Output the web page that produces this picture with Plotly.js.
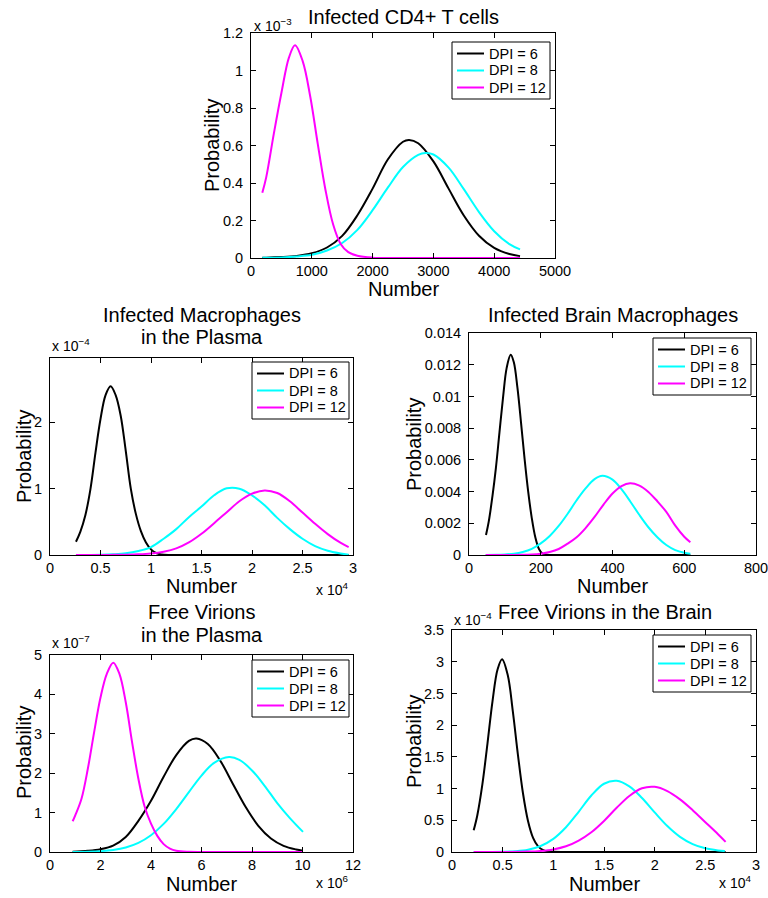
<!DOCTYPE html>
<html><head><meta charset="utf-8">
<script src="https://cdn.plot.ly/plotly-3.0.1.min.js"></script>
<style>html,body{margin:0;padding:0;background:#fff}#chart{width:768px;height:898px}</style>
</head><body><div id="chart"></div>
<script>
// ---------- series names & colours ----------
const seriesNames = ["DPI = 6", "DPI = 8", "DPI = 12"];
const seriesColors = ["#000000", "#00ffff", "#ff00ff"];

// ---------- Panel 1: Infected CD4+ T cells (x: number, y: x 10^-3) ----------
const cd4_x_dpi6  = [186, 250, 500, 750, 1000, 1250, 1500, 1750, 2000, 2250, 2500, 2600, 2750, 3000, 3250, 3500, 3750, 4000, 4250, 4425];
const cd4_y_dpi6  = [0.002, 0.002, 0.005, 0.011, 0.025, 0.056, 0.118, 0.228, 0.37, 0.525, 0.62, 0.63, 0.612, 0.515, 0.37, 0.227, 0.119, 0.054, 0.021, 0.01];
const cd4_x_dpi8  = [186, 250, 500, 750, 1000, 1250, 1500, 1750, 2000, 2250, 2500, 2750, 2870, 3000, 3250, 3500, 3750, 4000, 4250, 4425];
const cd4_y_dpi8  = [0.001, 0.001, 0.003, 0.008, 0.017, 0.04, 0.08, 0.15, 0.255, 0.375, 0.485, 0.55, 0.56, 0.552, 0.482, 0.367, 0.245, 0.143, 0.074, 0.046];
const cd4_x_dpi12 = [186, 250, 375, 500, 625, 724, 850, 975, 1100, 1225, 1350, 1475, 1600, 1750, 2000, 2250, 2500, 3000, 3500, 4000, 4425];
const cd4_y_dpi12 = [0.348, 0.43, 0.662, 0.88, 1.07, 1.135, 1.05, 0.86, 0.605, 0.363, 0.18, 0.075, 0.031, 0.012, 0.002, 0, 0, 0, 0, 0, 0];

// ---------- Panel 2: Infected Macrophages in the Plasma (x: x 10^4, y: x 10^-4) ----------
const macP_x_dpi6  = [0.257, 0.30, 0.35, 0.40, 0.45, 0.50, 0.55, 0.60, 0.65, 0.70, 0.75, 0.80, 0.85, 0.90, 0.95, 1.00, 1.05, 1.10, 1.20, 1.50, 2.0, 2.5, 2.957];
const macP_y_dpi6  = [0.20, 0.35, 0.60, 0.99, 1.54, 2.05, 2.41, 2.544, 2.41, 2.10, 1.57, 1.00, 0.62, 0.36, 0.19, 0.085, 0.03, 0.008, 0.001, 0, 0, 0, 0];
const macP_x_dpi8  = [0.257, 0.5, 0.625, 0.75, 0.875, 1.0, 1.125, 1.25, 1.375, 1.5, 1.625, 1.75, 1.875, 2.0, 2.125, 2.25, 2.375, 2.5, 2.625, 2.75, 2.875, 2.957];
const macP_y_dpi8  = [0, 0.004, 0.011, 0.025, 0.06, 0.12, 0.245, 0.39, 0.57, 0.73, 0.90, 1.005, 1.0, 0.90, 0.75, 0.56, 0.39, 0.245, 0.135, 0.065, 0.024, 0.005];
const macP_x_dpi12 = [0.257, 0.5, 0.625, 0.75, 0.875, 1.0, 1.125, 1.25, 1.375, 1.5, 1.625, 1.75, 1.875, 2.0, 2.125, 2.25, 2.375, 2.5, 2.625, 2.75, 2.875, 2.957];
const macP_y_dpi12 = [0, 0.001, 0.002, 0.004, 0.01, 0.023, 0.05, 0.10, 0.19, 0.32, 0.48, 0.645, 0.81, 0.925, 0.974, 0.935, 0.81, 0.64, 0.47, 0.315, 0.185, 0.12];

// ---------- Panel 3: Infected Brain Macrophages (x: number, y: probability) ----------
const macB_x_dpi6  = [47.4, 55, 65, 75, 85, 95, 105, 116.3, 125, 135, 145, 155, 165, 175, 185, 195, 205, 215, 230, 300, 617];
const macB_y_dpi6  = [0.00126, 0.0021, 0.00365, 0.0055, 0.00775, 0.00995, 0.0118, 0.01263, 0.01215, 0.01055, 0.00835, 0.00605, 0.0040, 0.00233, 0.0011, 0.00038, 0.00008, 0.000012, 0.000001, 0, 0];
const macB_x_dpi8  = [46.5, 75, 100, 125, 150, 175, 200, 225, 250, 275, 300, 325, 350, 372, 400, 425, 450, 475, 500, 525, 550, 575, 600, 617];
const macB_y_dpi8  = [0.000005, 0.000013, 0.000037, 0.00008, 0.00019, 0.00039, 0.00073, 0.0012, 0.00183, 0.0026, 0.00345, 0.0042, 0.00478, 0.00499, 0.00475, 0.00415, 0.00336, 0.00252, 0.00175, 0.00112, 0.00063, 0.00031, 0.000145, 0.00008];
const macB_x_dpi12 = [46.5, 100, 150, 175, 200, 225, 250, 275, 300, 325, 350, 375, 400, 425, 449, 475, 500, 525, 550, 575, 600, 617];
const macB_y_dpi12 = [0, 0.000002, 0.000014, 0.000035, 0.000085, 0.00019, 0.00038, 0.00072, 0.00112, 0.0017, 0.0024, 0.00318, 0.00388, 0.00435, 0.00453, 0.00438, 0.00398, 0.00339, 0.00272, 0.00185, 0.00115, 0.0008];

// ---------- Panel 4: Free Virions in the Plasma (x: x 10^6, y: x 10^-7) ----------
const virP_x_dpi6  = [0.897, 1.5, 2.0, 2.5, 3.0, 3.5, 4.0, 4.5, 5.0, 5.5, 5.8, 6.25, 6.75, 7.25, 7.75, 8.25, 8.75, 9.25, 9.75, 10.02];
const virP_y_dpi6  = [0.008, 0.03, 0.07, 0.16, 0.38, 0.79, 1.30, 1.91, 2.46, 2.82, 2.88, 2.74, 2.31, 1.72, 1.14, 0.665, 0.343, 0.157, 0.064, 0.035];
const virP_x_dpi8  = [0.897, 1.5, 2.0, 2.5, 3.0, 3.5, 4.0, 4.5, 5.0, 5.5, 6.0, 6.5, 7.09, 7.5, 8.0, 8.5, 9.0, 9.5, 10.02];
const virP_y_dpi8  = [0.002, 0.008, 0.022, 0.053, 0.116, 0.232, 0.426, 0.713, 1.09, 1.52, 1.94, 2.26, 2.41, 2.34, 2.07, 1.68, 1.24, 0.86, 0.51];
const virP_x_dpi12 = [0.897, 1.0, 1.25, 1.5, 1.75, 2.0, 2.25, 2.506, 2.75, 3.0, 3.25, 3.5, 3.75, 4.0, 4.25, 4.5, 4.75, 5.0, 5.5, 6, 7, 8, 9, 10.02];
const virP_y_dpi12 = [0.78, 0.93, 1.36, 2.12, 3.05, 3.92, 4.52, 4.805, 4.52, 3.8, 2.79, 1.86, 1.15, 0.72, 0.41, 0.20, 0.085, 0.03, 0.004, 0, 0, 0, 0, 0];

// ---------- Panel 5: Free Virions in the Brain (x: x 10^4, y: x 10^-4) ----------
const virB_x_dpi6  = [0.214, 0.25, 0.30, 0.35, 0.40, 0.45, 0.494, 0.55, 0.60, 0.65, 0.70, 0.75, 0.80, 0.85, 0.90, 0.95, 1.0, 1.1, 1.2, 1.5, 2.0, 2.7];
const virB_y_dpi6  = [0.342, 0.58, 1.07, 1.71, 2.38, 2.88, 3.04, 2.79, 2.22, 1.54, 0.93, 0.49, 0.224, 0.089, 0.031, 0.009, 0.002, 0, 0, 0, 0, 0];
const virB_x_dpi8  = [0.214, 0.375, 0.5, 0.625, 0.75, 0.875, 1.0, 1.125, 1.25, 1.375, 1.5, 1.625, 1.75, 1.875, 2.0, 2.125, 2.25, 2.375, 2.5, 2.625, 2.693];
const virB_y_dpi8  = [0, 0.001, 0.004, 0.013, 0.037, 0.095, 0.207, 0.39, 0.634, 0.89, 1.076, 1.123, 1.035, 0.851, 0.624, 0.409, 0.239, 0.125, 0.058, 0.024, 0.014];
const virB_x_dpi12 = [0.214, 0.5, 0.75, 0.875, 1.0, 1.125, 1.25, 1.375, 1.5, 1.625, 1.75, 1.875, 2.0, 2.125, 2.25, 2.375, 2.5, 2.625, 2.70];
const virB_y_dpi12 = [0, 0.001, 0.006, 0.017, 0.041, 0.09, 0.18, 0.311, 0.49, 0.697, 0.884, 1.005, 1.027, 0.96, 0.83, 0.66, 0.47, 0.28, 0.16];

// ---------- titles & tick labels ----------
const panelTitles = [["Infected CD4+ T cells"], ["Infected Macrophages", "in the Plasma"], ["Infected Brain Macrophages"], ["Free Virions", "in the Plasma"], ["Free Virions in the Brain"]];
const xAxisTitle = "Number";
const yAxisTitle = "Probability";
const xTicks = [[0, 1000, 2000, 3000, 4000, 5000], [0, 0.5, 1, 1.5, 2, 2.5, 3], [0, 200, 400, 600, 800], [0, 2, 4, 6, 8, 10, 12], [0, 0.5, 1, 1.5, 2, 2.5, 3]];
const yTicks = [[0, 0.2, 0.4, 0.6, 0.8, 1, 1.2], [0, 1, 2], [0, 0.002, 0.004, 0.006, 0.008, 0.01, 0.012, 0.014], [0, 1, 2, 3, 4, 5], [0, 0.5, 1, 1.5, 2, 2.5, 3, 3.5]];
const yExpLabels = ["x 10<sup>−3</sup>", "x 10<sup>−4</sup>", null, "x 10<sup>−7</sup>", "x 10<sup>−4</sup>"];
const xExpLabels = [null, "x 10<sup>4</sup>", null, "x 10<sup>6</sup>", "x 10<sup>4</sup>"];

const panelData = [
  [[cd4_x_dpi6, cd4_y_dpi6], [cd4_x_dpi8, cd4_y_dpi8], [cd4_x_dpi12, cd4_y_dpi12]],
  [[macP_x_dpi6, macP_y_dpi6], [macP_x_dpi8, macP_y_dpi8], [macP_x_dpi12, macP_y_dpi12]],
  [[macB_x_dpi6, macB_y_dpi6], [macB_x_dpi8, macB_y_dpi8], [macB_x_dpi12, macB_y_dpi12]],
  [[virP_x_dpi6, virP_y_dpi6], [virP_x_dpi8, virP_y_dpi8], [virP_x_dpi12, virP_y_dpi12]],
  [[virB_x_dpi6, virB_y_dpi6], [virB_x_dpi8, virB_y_dpi8], [virB_x_dpi12, virB_y_dpi12]]
];

// ---------- layout geometry (pixels in the 768x898 page) ----------
const W = 768, H = 898;
const FONT = "Liberation Sans, Arial, Helvetica, sans-serif";
const boxes = [[251, 555, 33, 258], [50, 353, 358, 555], [469, 756, 333, 555], [50, 353, 655, 852], [452, 756, 630, 852]];
const xRanges = [[0, 5000], [0, 3], [0, 800], [0, 12], [0, 3]];
const yRanges = [[0, 1.2], [0, 2.97], [0, 0.014], [0, 5], [0, 3.5]];
const legendBox = [[452, 550, 42, 99], [252, 349, 362, 419], [653, 751, 338, 395], [252, 349, 660, 717], [653, 751, 635, 692]];
const titlePos = [[[403, 17]], [[201.5, 315], [201.5, 337]], [[612.5, 315]], [[201.5, 612], [201.5, 635]], [[605, 612]]];
const xTitlePos = [[403, 289], [201.5, 586], [612.5, 586], [201.5, 883.5], [604, 883.5]];
const yTitlePos = [[212, 146], [24, 457], [414, 445], [24, 753], [414, 742]];
const yExpPos = [[252, 36], [50, 356], null, [50, 653], [452, 630]];
const xExpPos = [null, [350, 600], null, [350, 893], [753, 893]];

const fx = px => px / W;
const fy = py => 1 - py / H;

const traces = [];
const layout = {
  width: W, height: H, margin: {l: 0, r: 0, t: 0, b: 0},
  paper_bgcolor: "#fff", plot_bgcolor: "#fff", showlegend: false,
  font: {family: FONT, color: "#000"},
  annotations: [], shapes: []
};

function ann(text, px, py, opts) {
  layout.annotations.push(Object.assign({text: text, xref: "paper", yref: "paper", x: fx(px), y: fy(py),
    showarrow: false, font: {family: FONT, size: 20, color: "#000"}}, opts));
}

panelData.forEach((panel, p) => {
  const sfx = p === 0 ? "" : String(p + 1);
  panel.forEach((s, i) => {
    traces.push({
      type: "scatter", mode: "lines", x: s[0], y: s[1], name: seriesNames[i],
      line: {color: seriesColors[i], width: 2, shape: "spline", smoothing: 1},
      xaxis: "x" + sfx, yaxis: "y" + sfx, hoverinfo: "skip"
    });
  });
  const b = boxes[p];
  const axCommon = {
    showline: true, linecolor: "#000", linewidth: 1, mirror: "ticks",
    ticks: "inside", ticklen: 5, tickwidth: 1, tickcolor: "#000",
    showgrid: false, zeroline: false, tickmode: "array", ticklabeloverflow: "allow",
    tickfont: {family: FONT, size: 14.5, color: "#000"}, fixedrange: true
  };
  layout["xaxis" + sfx] = Object.assign({}, axCommon, {
    domain: [fx(b[0]), fx(b[1])], range: xRanges[p], anchor: "y" + sfx,
    tickvals: xTicks[p], ticktext: xTicks[p].map(String)
  });
  layout["yaxis" + sfx] = Object.assign({}, axCommon, {
    domain: [fy(b[3]), fy(b[2])], range: yRanges[p], anchor: "x" + sfx,
    tickvals: yTicks[p], ticktext: yTicks[p].map(String), ticklabelstandoff: 4
  });

  // legend box (drawn in page pixels)
  const L = legendBox[p];
  layout.shapes.push({type: "rect", xref: "paper", yref: "paper", x0: fx(L[0]), x1: fx(L[1]), y0: fy(L[3]), y1: fy(L[2]),
    line: {color: "#000", width: 1}, fillcolor: "#fff", layer: "above"});
  const rowOffsets = [11.5, 28.5, 45.5];
  seriesNames.forEach((nm, i) => {
    const ry = L[2] + rowOffsets[i];
    layout.shapes.push({type: "line", xref: "paper", yref: "paper", x0: fx(L[0] + 5), x1: fx(L[0] + 32), y0: fy(ry), y1: fy(ry),
      line: {color: seriesColors[i], width: 2}, layer: "above"});
    ann(nm, L[0] + 35, ry, {xanchor: "left", yanchor: "middle", font: {family: FONT, size: 14.5, color: "#000"}});
  });

  panelTitles[p].forEach((t, k) => ann(t, titlePos[p][k][0], titlePos[p][k][1], {xanchor: "center", yanchor: "middle"}));
  ann(xAxisTitle, xTitlePos[p][0], xTitlePos[p][1], {xanchor: "center", yanchor: "middle"});
  ann(yAxisTitle, yTitlePos[p][0], yTitlePos[p][1], {xanchor: "center", yanchor: "middle", textangle: -90});
  if (yExpLabels[p]) ann(yExpLabels[p], yExpPos[p][0], yExpPos[p][1], {xanchor: "left", yanchor: "bottom", font: {family: FONT, size: 14, color: "#000"}});
  if (xExpLabels[p]) ann(xExpLabels[p], xExpPos[p][0], xExpPos[p][1], {xanchor: "right", yanchor: "bottom", font: {family: FONT, size: 14, color: "#000"}});
});

Plotly.newPlot("chart", traces, layout, {displayModeBar: false, staticPlot: true});
</script>
</body></html>
